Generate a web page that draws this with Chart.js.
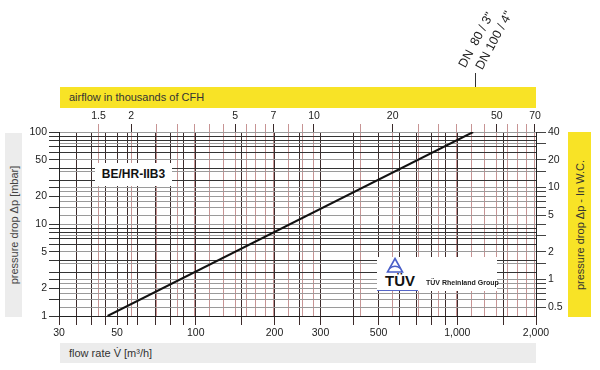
<!DOCTYPE html>
<html>
<head>
<meta charset="utf-8">
<script src="https://cdn.jsdelivr.net/npm/chart.js@4.4.0/dist/chart.umd.min.js"></script>
<style>
  body { margin: 0; background: #fff; font-family: "Liberation Sans", Arial, sans-serif; }
  #wrap { position: relative; width: 600px; height: 370px; }
  #wrap canvas { position: absolute; left: 0; top: 0; }
  .band { position: absolute; color: #333; font-size: 11px; }
  .top-band { left: 60px; top: 87px; width: 476px; height: 21px; background: #f8e326; line-height: 21px; padding-left: 9px; box-sizing: border-box; }
  .bottom-band { left: 60px; top: 343px; width: 476px; height: 20px; background: #ececec; line-height: 20px; padding-left: 9px; box-sizing: border-box; }
  .left-band { left: 5px; top: 133px; width: 17px; height: 184px; background: #ececec; color: #444; }
  .right-band { left: 568px; top: 132px; width: 23px; height: 185px; background: #f8e326; }
  .vtext { position: absolute; left: 50%; top: 50%; white-space: nowrap; transform: translate(-50%, -50%) rotate(-90deg); }
  .model { position: absolute; left: 95px; top: 163px; width: 77px; height: 23px; background: #fff; font-weight: bold; font-size: 12px; line-height: 23px; text-align: center; color: #111; }
  .tuv { position: absolute; left: 377px; top: 257px; width: 120px; height: 34px; background: #fff; }
  .tuv .big { position: absolute; left: 8px; top: 15px; font-weight: bold; font-size: 15px; color: #111; }
  .tuv .small { position: absolute; left: 49px; top: 22px; font-weight: bold; font-size: 7px; color: #222; white-space: nowrap; }
  .tuv .rule { position: absolute; left: 0; top: 33px; width: 41px; height: 1px; background: #5566c8; }
  .tuv svg { position: absolute; left: 9px; top: 0; }
  .dn { position: absolute; font-size: 12.5px; color: #222; white-space: nowrap; transform-origin: 0 100%; transform: rotate(-62deg); line-height: 13px; height: 13px; }
  .dn-mark { position: absolute; left: 475px; top: 73px; width: 1px; height: 14px; background: #333; }
</style>
</head>
<body>
<div id="wrap">
  <canvas id="chart" width="600" height="370"></canvas>
  <div class="band top-band">airflow in thousands of CFH</div>
  <div class="band bottom-band">flow rate V̇ [m³/h]</div>
  <div class="band left-band"><span class="vtext">pressure drop Δp [mbar]</span></div>
  <div class="band right-band"><span class="vtext">pressure drop Δp - In W.C.</span></div>
  <div class="model">BE/HR-IIB3</div>
  <div class="tuv">
    <svg width="18" height="17" viewBox="0 0 18 17">
      <path d="M9 1.5 L16.5 15 L1.5 15 Z" fill="none" stroke="#4a5fc8" stroke-width="1.6"/>
      <path d="M3.5 11.5 Q9 7 14.5 11.5" fill="none" stroke="#4a5fc8" stroke-width="1.4"/>
    </svg>
    <span class="big">TÜV</span>
    <span class="small">TÜV Rheinland Group</span>
    <div class="rule"></div>
  </div>
  <div class="dn" style="left:468px; top:57px;">DN&nbsp;&nbsp;80 / 3"</div>
  <div class="dn" style="left:485px; top:59px;">DN 100 / 4"</div>
  <div class="dn-mark"></div>
</div>
<script>
// curve BE/HR-IIB3: flow rate [m³/h] vs pressure drop [mbar]
const flowRate = [46, 1150];
const pressureDrop = [1, 100];

// bottom axis, m³/h
const flowTicks = [30, 35, 40, 45, 50, 55, 60, 70, 80, 90, 100, 150, 200, 250, 300, 400, 500, 600, 700, 800, 900, 1000, 1500, 2000];
const flowLabels = [30, 50, 100, 200, 300, 500, 1000, 2000];

// top axis, thousands of CFH
const cfhTicks = [1.5, 2, 2.5, 3, 3.5, 4, 4.5, 5, 5.5, 6, 6.5, 7, 8, 9, 10, 15, 20, 25, 30, 35, 40, 45, 50, 55, 60, 65, 70];
const cfhLabels = [1.5, 2, 5, 7, 10, 20, 50, 70];

// left axis, mbar
const mbarTicks = [1, 1.5, 2, 2.5, 3, 4, 5, 6, 7, 8, 9, 10, 15, 20, 25, 30, 40, 50, 60, 70, 80, 90, 100];
const mbarLabels = [1, 2, 5, 10, 20, 50, 100];

// right axis, inches water column
const wcTicks = [0.5, 0.6, 0.7, 0.8, 0.9, 1, 1.5, 2, 3, 4, 5, 6, 7, 8, 9, 10, 15, 20, 30, 40];
const wcLabels = [0.5, 1, 2, 5, 10, 20, 40];

const M3H_TO_KCFH = 0.0353147;
const MBAR_PER_INWC = 2.49089;
const flowMin = 30, flowMax = 2000, dropMin = 1, dropMax = 100;

function setTicks(list) {
    return function(scale) {
        scale.ticks = list.map(function(v) { return { value: v }; });
    };
}

function labelFrom(list) {
    return function(value) {
        return list.indexOf(value) >= 0 ? value.toLocaleString('en-US') : '';
    };
}

const tickFont = { family: '"Liberation Sans", Arial, sans-serif', size: 10.5 };

new Chart(document.getElementById('chart'), {
    type: 'scatter',
    data: {
        datasets: [{
            data: flowRate.map(function(f, i) { return { x: f, y: pressureDrop[i] }; }),
            showLine: true,
            borderColor: '#111',
            borderWidth: 2,
            pointRadius: 0,
            xAxisID: 'x',
            yAxisID: 'y'
        }]
    },
    options: {
        responsive: false,
        animation: false,
        layout: { padding: 0 },
        plugins: { legend: { display: false }, tooltip: { enabled: false } },
        scales: {
            x: {
                type: 'logarithmic', position: 'bottom', min: flowMin, max: flowMax,
                afterBuildTicks: setTicks(flowTicks),
                afterFit: function(s) { s.height = 54; },
                grid: { color: '#3d2b2b', tickLength: 9 },
                border: { color: '#222' },
                ticks: { autoSkip: false, maxRotation: 0, padding: 2, color: '#222', font: tickFont, callback: labelFrom(flowLabels) }
            },
            x2: {
                type: 'logarithmic', position: 'top', min: flowMin * M3H_TO_KCFH, max: flowMax * M3H_TO_KCFH,
                afterBuildTicks: setTicks(cfhTicks),
                afterFit: function(s) { s.height = 132; },
                grid: {
                    color: '#c79494',
                    tickColor: function(ctx) {
                        let v = ctx.tick && ctx.tick.value;
                        return (cfhLabels.indexOf(v) > 0) ? '#3a2a2a' : '#c79494';
                    },
                    tickLength: 8
                },
                border: { display: false },
                ticks: { autoSkip: false, maxRotation: 0, padding: 2, color: '#222', font: tickFont, callback: labelFrom(cfhLabels) }
            },
            y: {
                type: 'logarithmic', position: 'left', min: dropMin, max: dropMax,
                afterBuildTicks: setTicks(mbarTicks),
                afterFit: function(s) { s.width = 59; },
                grid: { color: '#333', tickLength: 10 },
                border: { color: '#222' },
                ticks: { autoSkip: false, padding: 2, color: '#222', font: tickFont, callback: labelFrom(mbarLabels) }
            },
            y2: {
                type: 'logarithmic', position: 'right', min: dropMin / MBAR_PER_INWC, max: dropMax / MBAR_PER_INWC,
                afterBuildTicks: setTicks(wcTicks),
                afterFit: function(s) { s.width = 64; },
                grid: { color: '#9a9a9a', tickColor: '#444', tickLength: 10 },
                border: { color: '#222' },
                ticks: { autoSkip: false, padding: 2, color: '#222', font: tickFont, callback: labelFrom(wcLabels) }
            }
        }
    }
});
</script>
</body>
</html>
